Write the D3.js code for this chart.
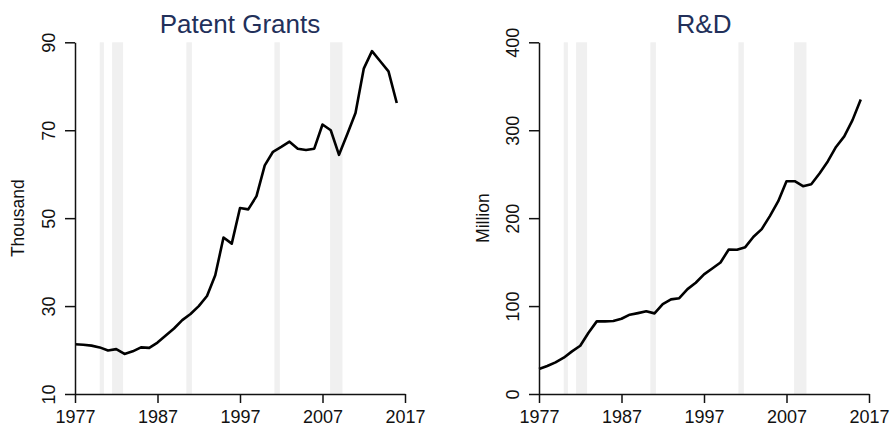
<!DOCTYPE html>
<html>
<head>
<meta charset="utf-8">
<script src="https://cdn.jsdelivr.net/npm/d3@7"></script>
<style>
  html, body { margin: 0; padding: 0; background: #fff; }
  svg { display: block; font-family: "Liberation Sans", Arial, sans-serif; }
</style>
</head>
<body>
<svg id="chart" width="890" height="426"></svg>
<script>
// ---- data ----
const years = d3.range(1977, 2017); // 1977..2016
const patentGrants = [
  21.3, 21.2, 21.0, 20.6, 19.9, 20.2, 19.1, 19.7, 20.6, 20.5,
  21.7, 23.3, 24.9, 26.8, 28.2, 30.0, 32.3, 37.0, 45.6, 44.2,
  52.3, 52.0, 55.0, 62.0, 65.1, 66.2, 67.4, 65.8, 65.5, 65.8,
  71.3, 70.0, 64.4, 69.1, 73.9, 84.0, 88.0, 85.7, 83.4, 76.2
];
const rdSpending = [
  28.4, 31.8, 36.0, 41.3, 48.5, 54.9, 69.7, 82.6, 82.6, 83.0,
  85.6, 90.2, 92.0, 94.0, 91.7, 102.3, 107.6, 109.0, 119.3, 126.5,
  136.0, 142.8, 149.6, 164.4, 164.0, 167.0, 178.8, 187.5, 202.6, 219.3,
  242.0, 242.0, 236.4, 238.6, 250.8, 264.5, 281.0, 293.0, 311.5, 335.0
];
const recessions = [
  [1980.0, 1980.5], [1981.5, 1982.83], [1990.5, 1991.17],
  [2001.17, 2001.83], [2007.92, 2009.42]
];
const xTicks = [1977, 1987, 1997, 2007, 2017];
const patentTicks = [10, 30, 50, 70, 90];
const rdTicks = [0, 100, 200, 300, 400];
const titles = ["Patent Grants", "R&D"];
const yLabels = ["Thousand", "Million"];

// ---- layout ----
const svg = d3.select("#chart");
const plotTop = 42.3, plotBottom = 394;
const panels = [
  { left: 75, right: 405, values: patentGrants, domain: [10, 90], ticks: patentTicks, title: titles[0], ylab: yLabels[0], ylabX: 24 },
  { left: 539, right: 869, values: rdSpending, domain: [0, 400], ticks: rdTicks, title: titles[1], ylab: yLabels[1], ylabX: 489 }
];

panels.forEach(p => {
  const x = d3.scaleLinear().domain([1977, 2017]).range([p.left, p.right]);
  const y = d3.scaleLinear().domain(p.domain).range([plotBottom, plotTop]);
  const g = svg.append("g");

  // recession bands
  g.selectAll("rect.rec").data(recessions).join("rect")
    .attr("class", "rec")
    .attr("x", d => x(d[0]))
    .attr("width", d => x(d[1]) - x(d[0]))
    .attr("y", plotTop)
    .attr("height", plotBottom - plotTop)
    .attr("fill", "#f0f0f0");

  // line
  const line = d3.line().x((d, i) => x(years[i])).y(d => y(d));
  g.append("path").datum(p.values)
    .attr("d", line)
    .attr("fill", "none")
    .attr("stroke", "#000")
    .attr("stroke-width", 2.6)
    .attr("stroke-linejoin", "round");

  // x axis
  const xAxis = g.append("g").attr("transform", `translate(0,${plotBottom})`)
    .call(d3.axisBottom(x).tickValues(xTicks).tickFormat(d3.format("d")).tickSize(9).tickSizeOuter(0));
  xAxis.select(".domain").attr("stroke", "#111").attr("stroke-width", 1.5);
  xAxis.selectAll(".tick line").attr("stroke", "#111").attr("stroke-width", 1.5);
  xAxis.selectAll(".tick text")
    .attr("font-size", 18).attr("fill", "#111")
    .attr("font-family", "Liberation Sans, Arial, sans-serif")
    .attr("dy", null).attr("y", 28.5);

  // y axis
  const yAxis = g.append("g").attr("transform", `translate(${p.left},0)`)
    .call(d3.axisLeft(y).tickValues(p.ticks).tickFormat(d3.format("d")).tickSize(10).tickSizeOuter(0));
  yAxis.select(".domain").attr("stroke", "#111").attr("stroke-width", 1.5);
  yAxis.selectAll(".tick line").attr("stroke", "#111").attr("stroke-width", 1.5);
  yAxis.selectAll(".tick text")
    .attr("font-size", 18).attr("fill", "#111")
    .attr("font-family", "Liberation Sans, Arial, sans-serif")
    .attr("x", null).attr("dy", null)
    .attr("text-anchor", "middle")
    .attr("transform", "translate(-20,0) rotate(-90)");

  // title
  svg.append("text")
    .attr("x", (p.left + p.right) / 2)
    .attr("y", 33)
    .attr("text-anchor", "middle")
    .attr("font-size", 26)
    .attr("fill", "#22305a")
    .text(p.title);

  // y label
  svg.append("text")
    .attr("transform", `translate(${p.ylabX},${(plotTop + plotBottom) / 2}) rotate(-90)`)
    .attr("text-anchor", "middle")
    .attr("font-size", 17.5)
    .attr("fill", "#111")
    .text(p.ylab);
});
</script>
</body>
</html>
